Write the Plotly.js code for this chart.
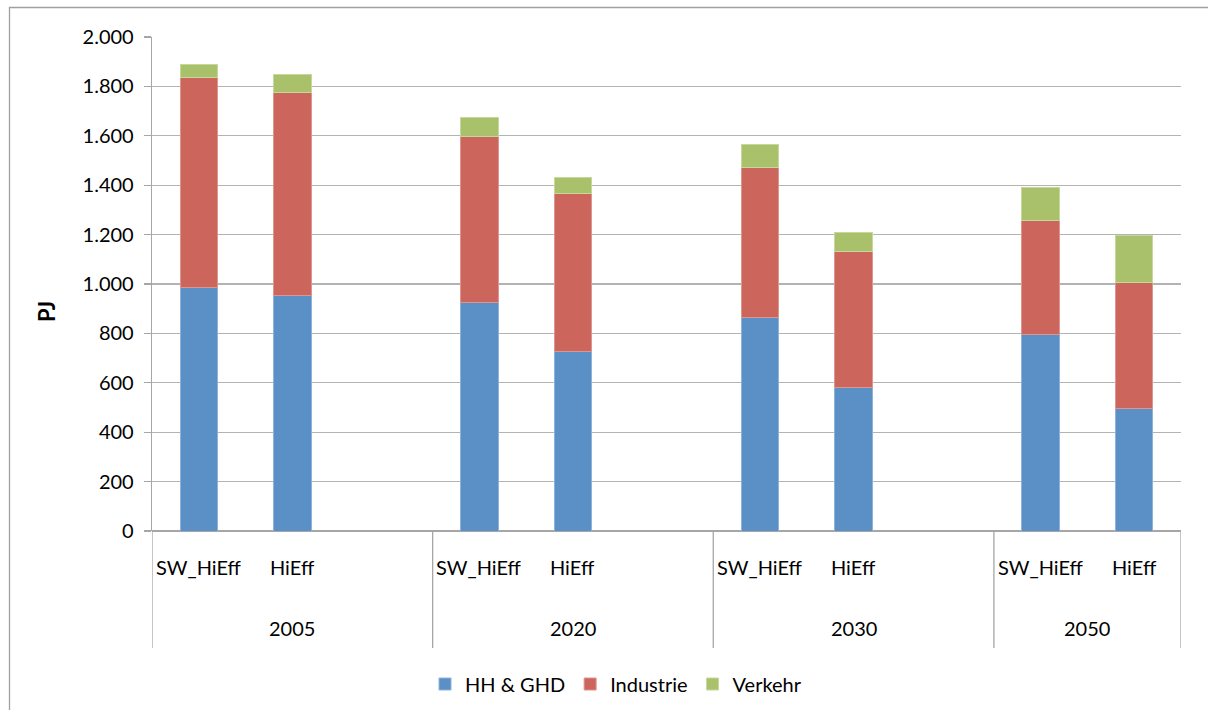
<!DOCTYPE html>
<html>
<head>
<meta charset="utf-8">
<script src="https://cdn.plot.ly/plotly-3.0.1.min.js"></script>
<style>
html,body{margin:0;padding:0;background:#fff;}
#chart{width:1208px;height:710px;}
</style>
</head>
<body>
<div id="chart"></div>
<script>
// ---- data ----
const years = ['2005', '2020', '2030', '2050'];
const scenarios = ['SW_HiEff', 'HiEff'];
const seriesNames = ['HH & GHD', 'Industrie', 'Verkehr'];
// order: 2005 SW_HiEff, 2005 HiEff, 2020 SW_HiEff, 2020 HiEff, 2030 ..., 2050 ...
const hhGhd     = [985, 955, 927, 725, 865, 583, 794, 494];
const industrie = [850, 822, 672, 640, 605, 547, 465, 514];
const verkehr   = [55, 70, 77, 65, 95, 80, 133, 190];
const yTicks = [0, 200, 400, 600, 800, 1000, 1200, 1400, 1600, 1800, 2000];
const yTitle = 'PJ';

// ---- layout helpers ----
const colors = ['#5A90C6', '#CC655B', '#AAC16B'];
const outline = ['#8DB3DD', '#DE9690', '#C6D89C'];
const slotsPerGroup = 3;
const xs = [];
years.forEach((y, g) => scenarios.forEach((s, i) => { xs.push(g * slotsPerGroup + i); }));
const xMin = -0.5, xMax = (years.length - 1) * slotsPerGroup + scenarios.length - 0.5;

const W = 1208, H = 710, L = 152, R = 27, T = 37, B = 179;
const pw = W - L - R, ph = H - T - B;
const px2paperX = px => (px - L) / pw;
const py2paperY = py => (H - B - py) / ph;

const FONT = 'Lato, "Open Sans", sans-serif';
const FS = 20;
const data = [hhGhd, industrie, verkehr].map((vals, k) => ({
  type: 'bar',
  name: seriesNames[k],
  x: xs,
  y: vals,
  width: 0.4,
  marker: {color: colors[k], line: {color: outline[k], width: 1}},
  hoverinfo: 'name+y'
}));

const annotations = [];
xs.forEach((x, i) => {
  annotations.push({
    x: x, xref: 'x', y: py2paperY(567), yref: 'paper',
    text: scenarios[i % scenarios.length], showarrow: false,
    font: {family: FONT, size: FS, color: '#000'}, xanchor: 'center', yanchor: 'middle'
  });
});
years.forEach((yr, g) => {
  const start = g * slotsPerGroup - 0.5;
  const end = Math.min(start + slotsPerGroup, xMax);
  annotations.push({
    x: (start + end) / 2, xref: 'x', y: py2paperY(628), yref: 'paper',
    text: yr, showarrow: false,
    font: {family: FONT, size: FS, color: '#000'}, xanchor: 'center', yanchor: 'middle'
  });
});
annotations.push({
  x: px2paperX(46), xref: 'paper', y: py2paperY(312), yref: 'paper',
  text: '<b>' + yTitle + '</b>', textangle: -90, showarrow: false,
  font: {family: FONT, size: 22, color: '#000'}, xanchor: 'center', yanchor: 'middle'
});

const shapes = [];
const seps = years.map((_, g) => g * slotsPerGroup - 0.5).concat([xMax]);
seps.forEach(sx => shapes.push({
  type: 'line', xref: 'x', yref: 'paper', x0: sx, x1: sx,
  y0: 0, y1: py2paperY(648), line: {color: '#A6A6A6', width: 1.3}
}));
// outer chart border
shapes.push({
  type: 'rect', xref: 'paper', yref: 'paper',
  x0: px2paperX(9.5), x1: px2paperX(1220), y0: py2paperY(7.5), y1: py2paperY(720),
  line: {color: '#A0A0A0', width: 1.3}, fillcolor: 'rgba(0,0,0,0)', layer: 'below'
});

const layout = {
  width: W, height: H,
  margin: {l: L, r: R, t: T, b: B, pad: 0, autoexpand: false},
  paper_bgcolor: '#fff', plot_bgcolor: '#fff',
  separators: ',.',
  barmode: 'stack',
  showlegend: true,
  font: {family: FONT, size: FS, color: '#000'},
  xaxis: {
    range: [xMin, xMax], showgrid: false, zeroline: false,
    showticklabels: false, ticks: '', showline: false, fixedrange: true
  },
  yaxis: {
    range: [0, 2000], tickvals: yTicks, tickformat: ',d',
    showgrid: true, gridcolor: '#B3B3B3', gridwidth: 1.3,
    zeroline: true, zerolinecolor: '#A6A6A6', zerolinewidth: 1.3,
    showline: true, linecolor: '#A6A6A6', linewidth: 1.3,
    ticks: 'outside', ticklen: 7, tickcolor: '#A6A6A6', tickwidth: 1.3,
    ticklabelstandoff: 6,
    tickfont: {family: FONT, size: FS, color: '#000'},
    fixedrange: true
  },
  legend: {
    orientation: 'h', x: px2paperX(616), xanchor: 'center',
    y: py2paperY(684), yanchor: 'middle',
    font: {family: FONT, size: FS, color: '#000'},
    traceorder: 'normal', itemwidth: 30, tracegroupgap: 0
  },
  annotations: annotations,
  shapes: shapes
};

Plotly.newPlot('chart', data, layout, {displayModeBar: false, staticPlot: true});
</script>
</body>
</html>
